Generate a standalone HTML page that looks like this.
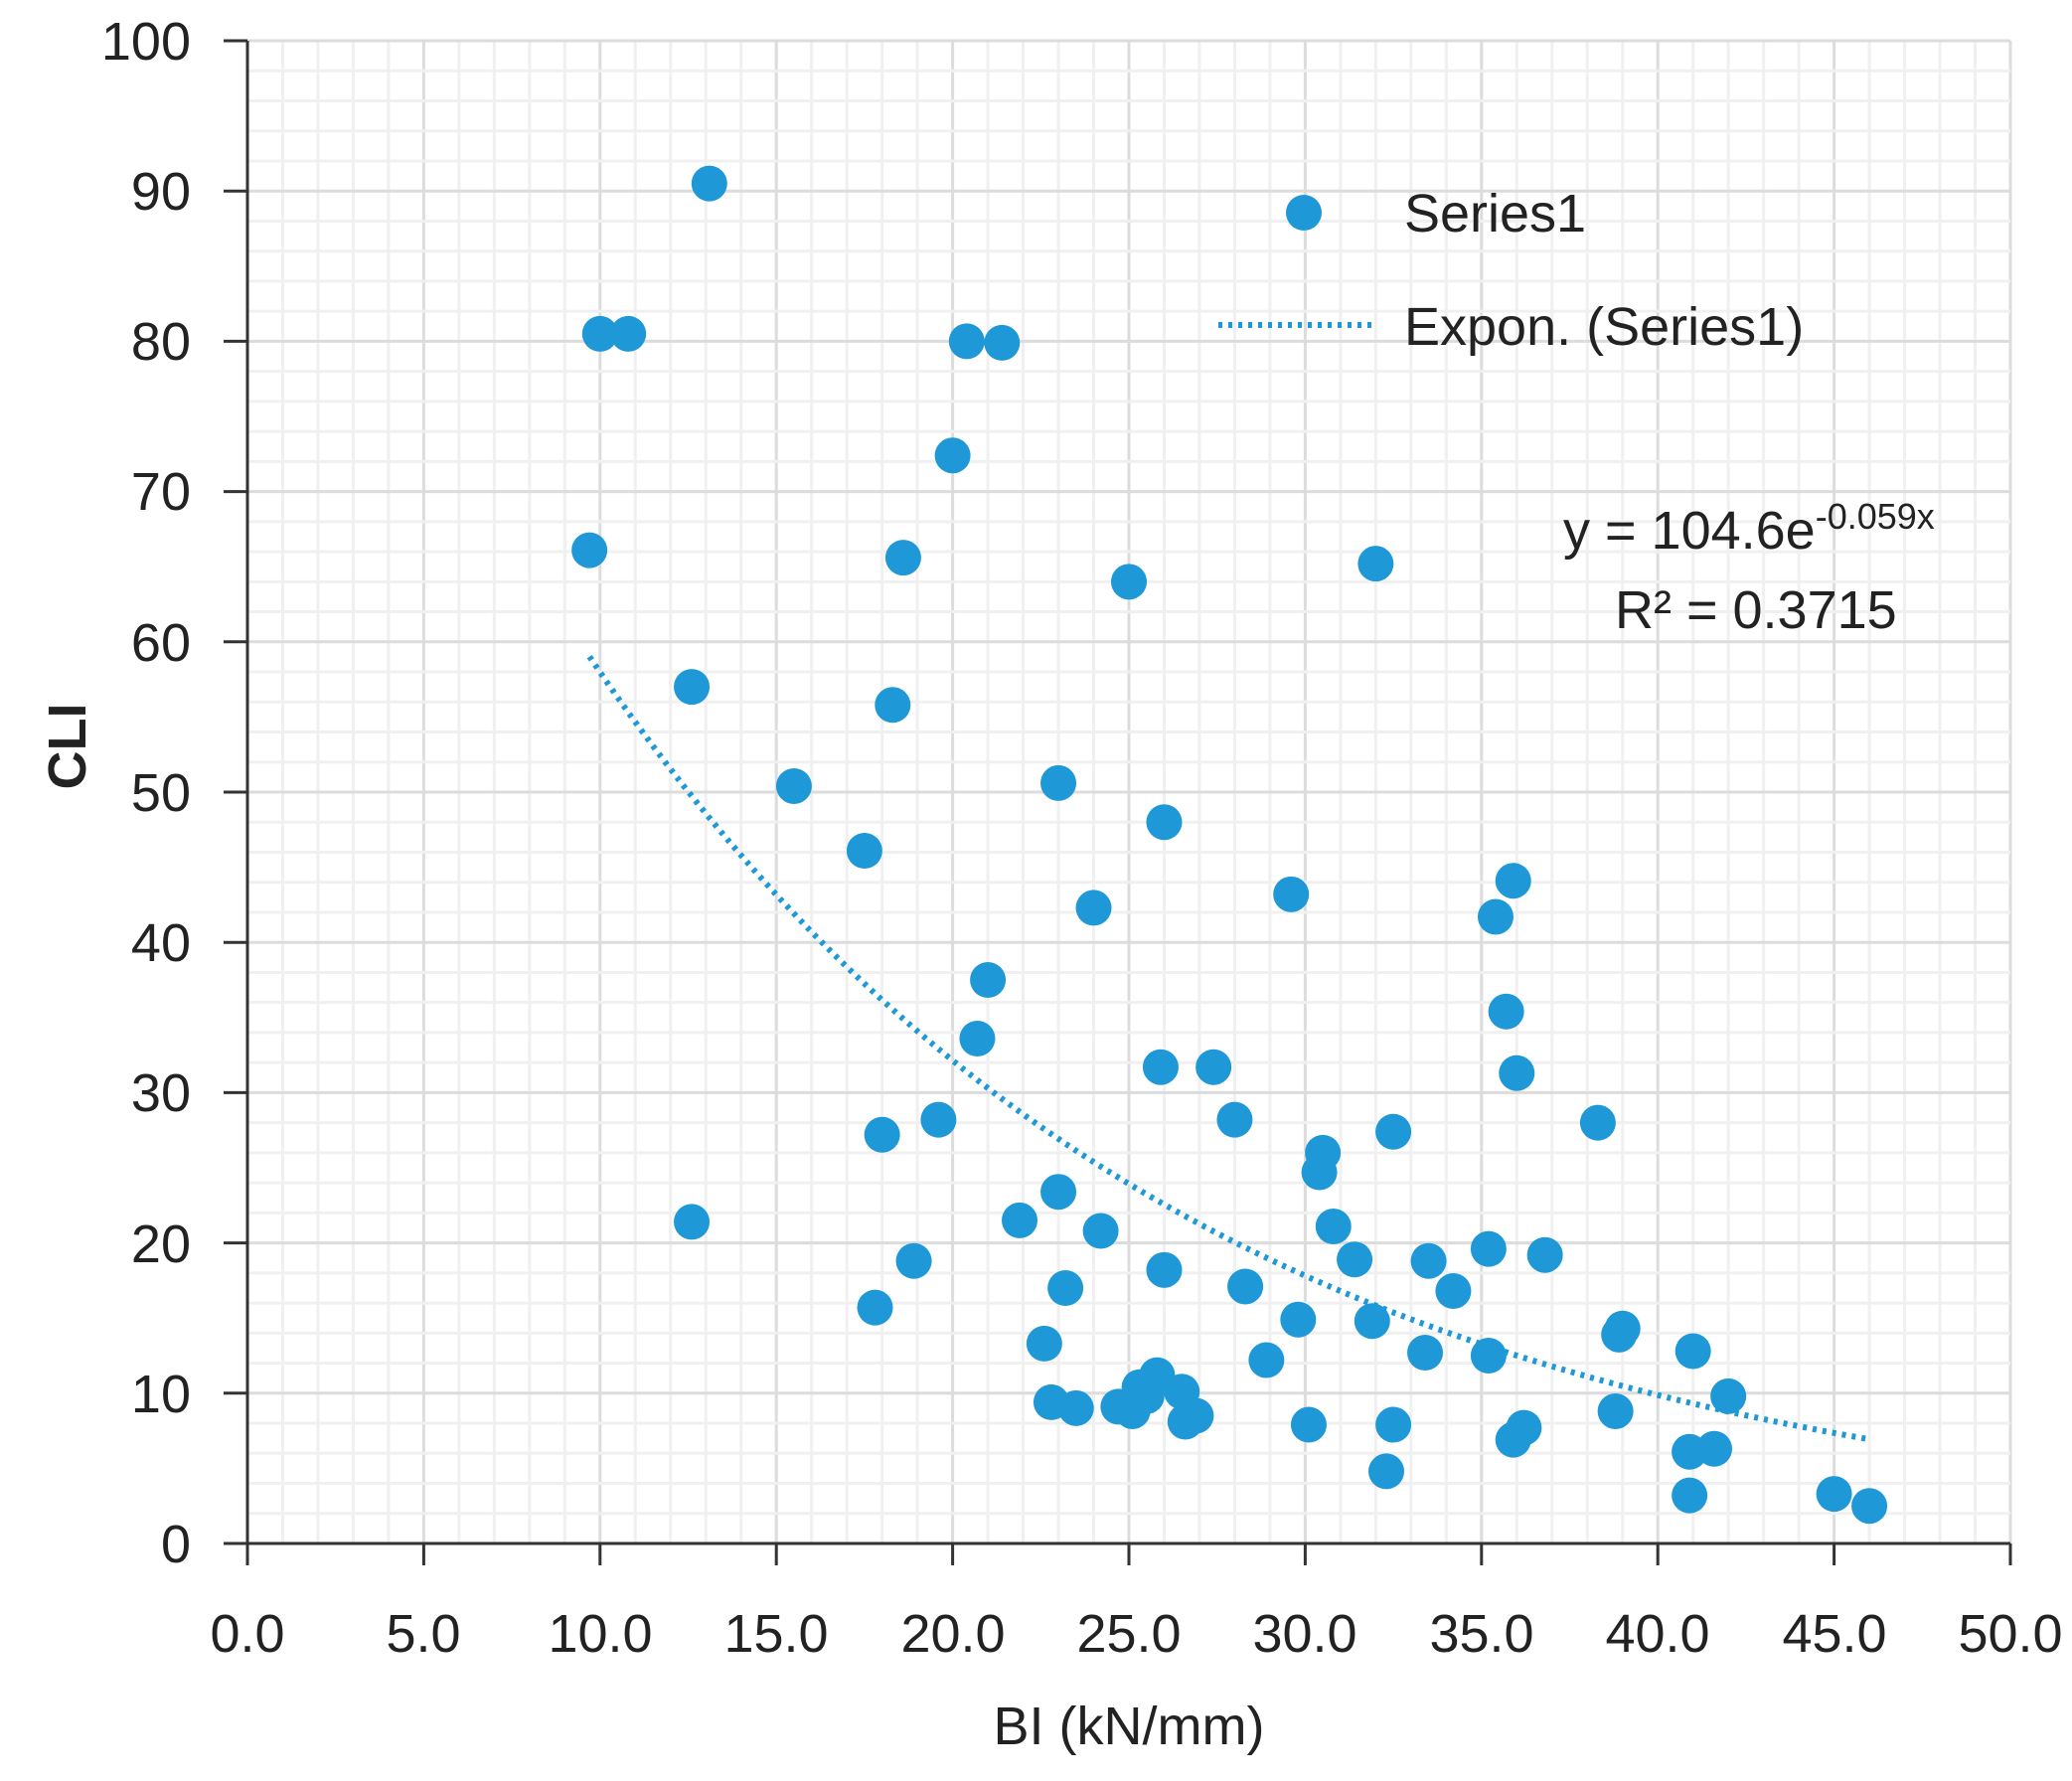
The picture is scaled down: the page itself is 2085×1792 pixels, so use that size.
<!DOCTYPE html>
<html><head><meta charset="utf-8"><style>
html,body{margin:0;padding:0;background:#fff;}
svg text{font-family:"Liberation Sans",sans-serif;fill:#222;}
</style></head><body>
<svg id="s" width="2085" height="1787" viewBox="0 0 2085 1787" xmlns="http://www.w3.org/2000/svg">
<g id="grid"></g>
<g id="trend"></g>
<g id="dots"></g>
<g font-size="54" text-anchor="end">
<text x="192" y="1572">0</text>
<text x="192" y="1421">10</text>
<text x="192" y="1270">20</text>
<text x="192" y="1118">30</text>
<text x="192" y="967">40</text>
<text x="192" y="816">50</text>
<text x="192" y="665">60</text>
<text x="192" y="513">70</text>
<text x="192" y="362">80</text>
<text x="192" y="211">90</text>
<text x="192" y="60">100</text>
</g>
<g font-size="54" text-anchor="middle">
<text x="249" y="1662">0.0</text>
<text x="426" y="1662">5.0</text>
<text x="604" y="1662">10.0</text>
<text x="781" y="1662">15.0</text>
<text x="959" y="1662">20.0</text>
<text x="1136" y="1662">25.0</text>
<text x="1313" y="1662">30.0</text>
<text x="1491" y="1662">35.0</text>
<text x="1668" y="1662">40.0</text>
<text x="1846" y="1662">45.0</text>
<text x="2023" y="1662">50.0</text>
<text x="1136" y="1755">BI (kN/mm)</text>
<text transform="translate(86,751) rotate(-90)" font-weight="bold">CLI</text>
</g>
<circle cx="1312" cy="214" r="18" fill="#1e98d6"/>
<text x="1413" y="233" font-size="54">Series1</text>
<line x1="1226" y1="327" x2="1385" y2="327" stroke="#1e98d6" stroke-width="6" stroke-dasharray="4,6"/>
<text x="1413" y="347" font-size="54">Expon. (Series1)</text>
<text x="1573" y="552" font-size="54">y = 104.6e<tspan font-size="36" dy="-20">-0.059x</tspan></text>
<text x="1625" y="632" font-size="54">R² = 0.3715</text>
</svg>
<script>
var NS="http://www.w3.org/2000/svg";
function X(v){return 249+v*35.48;}function Y(v){return 1553-v*15.12;}
function el(p,t,a){var e=document.createElementNS(NS,t);for(var k in a)e.setAttribute(k,a[k]);p.appendChild(e);return e;}
var g=document.getElementById('grid');
for(var i=1;i<=50;i++){el(g,'line',{x1:X(i),x2:X(i),y1:Y(0),y2:Y(100),stroke:i%5?'#f0f0f0':'#dcdcdc','stroke-width':3});}
for(var j=2;j<=100;j+=2){el(g,'line',{x1:X(0),x2:X(50),y1:Y(j),y2:Y(j),stroke:j%10?'#f0f0f0':'#dcdcdc','stroke-width':3});}
el(g,'line',{x1:X(0),x2:X(50),y1:Y(0),y2:Y(0),stroke:'#333','stroke-width':3});
el(g,'line',{x1:X(0),x2:X(0),y1:Y(0)+22,y2:Y(100),stroke:'#333','stroke-width':3});
for(var i=0;i<=50;i+=5)el(g,'line',{x1:X(i),x2:X(i),y1:Y(0),y2:Y(0)+22,stroke:'#333','stroke-width':3});
for(var j=0;j<=100;j+=10)el(g,'line',{x1:X(0)-24,x2:X(0),y1:Y(j),y2:Y(j),stroke:'#333','stroke-width':3});
var pts="";for(var x=9.7;x<=46.01;x+=0.2){pts+=X(x)+","+Y(104.6*Math.exp(-0.059*x))+" ";}
el(document.getElementById('trend'),'polyline',{points:pts,fill:'none',stroke:'#1e98d6','stroke-width':6,'stroke-dasharray':'4,6'});
var d=[[13.1,90.5],[10,80.5],[10.8,80.5],[20.4,80],[21.4,79.9],[20,72.4],[9.7,66.1],[18.6,65.6],[25,64],[32,65.2],[12.6,57],[18.3,55.8],[15.5,50.4],[23,50.6],[26,48],[17.5,46.1],[24,42.3],[29.6,43.2],[35.9,44.1],[35.4,41.7],[21,37.5],[20.7,33.6],[35.7,35.4],[36,31.3],[25.9,31.7],[27.4,31.7],[28,28.2],[19.6,28.2],[18,27.2],[32.5,27.4],[38.3,28],[30.5,26],[30.4,24.7],[23,23.4],[12.6,21.4],[21.9,21.5],[24.2,20.8],[30.8,21.1],[31.4,18.9],[33.5,18.8],[35.2,19.6],[36.8,19.2],[18.9,18.8],[26,18.2],[23.2,17],[28.3,17.1],[34.2,16.8],[17.8,15.7],[29.8,14.9],[31.9,14.8],[38.9,13.9],[39,14.3],[22.6,13.3],[33.4,12.7],[35.2,12.5],[28.9,12.2],[41,12.8],[42,9.8],[25.8,11.2],[25.3,10.4],[26.5,10.1],[22.8,9.4],[23.5,9],[24.7,9.1],[25.1,8.8],[25.5,9.8],[26.9,8.5],[26.6,8.1],[30.1,7.9],[32.5,7.9],[36.2,7.7],[35.9,6.9],[38.8,8.8],[40.9,6.1],[41.6,6.3],[32.3,4.8],[40.9,3.2],[45,3.3],[46,2.5]];
var dg=document.getElementById('dots');
d.forEach(function(p){el(dg,'circle',{cx:X(p[0]),cy:Y(p[1]),r:18,fill:'#1e98d6'});});
</script>
</body></html>
